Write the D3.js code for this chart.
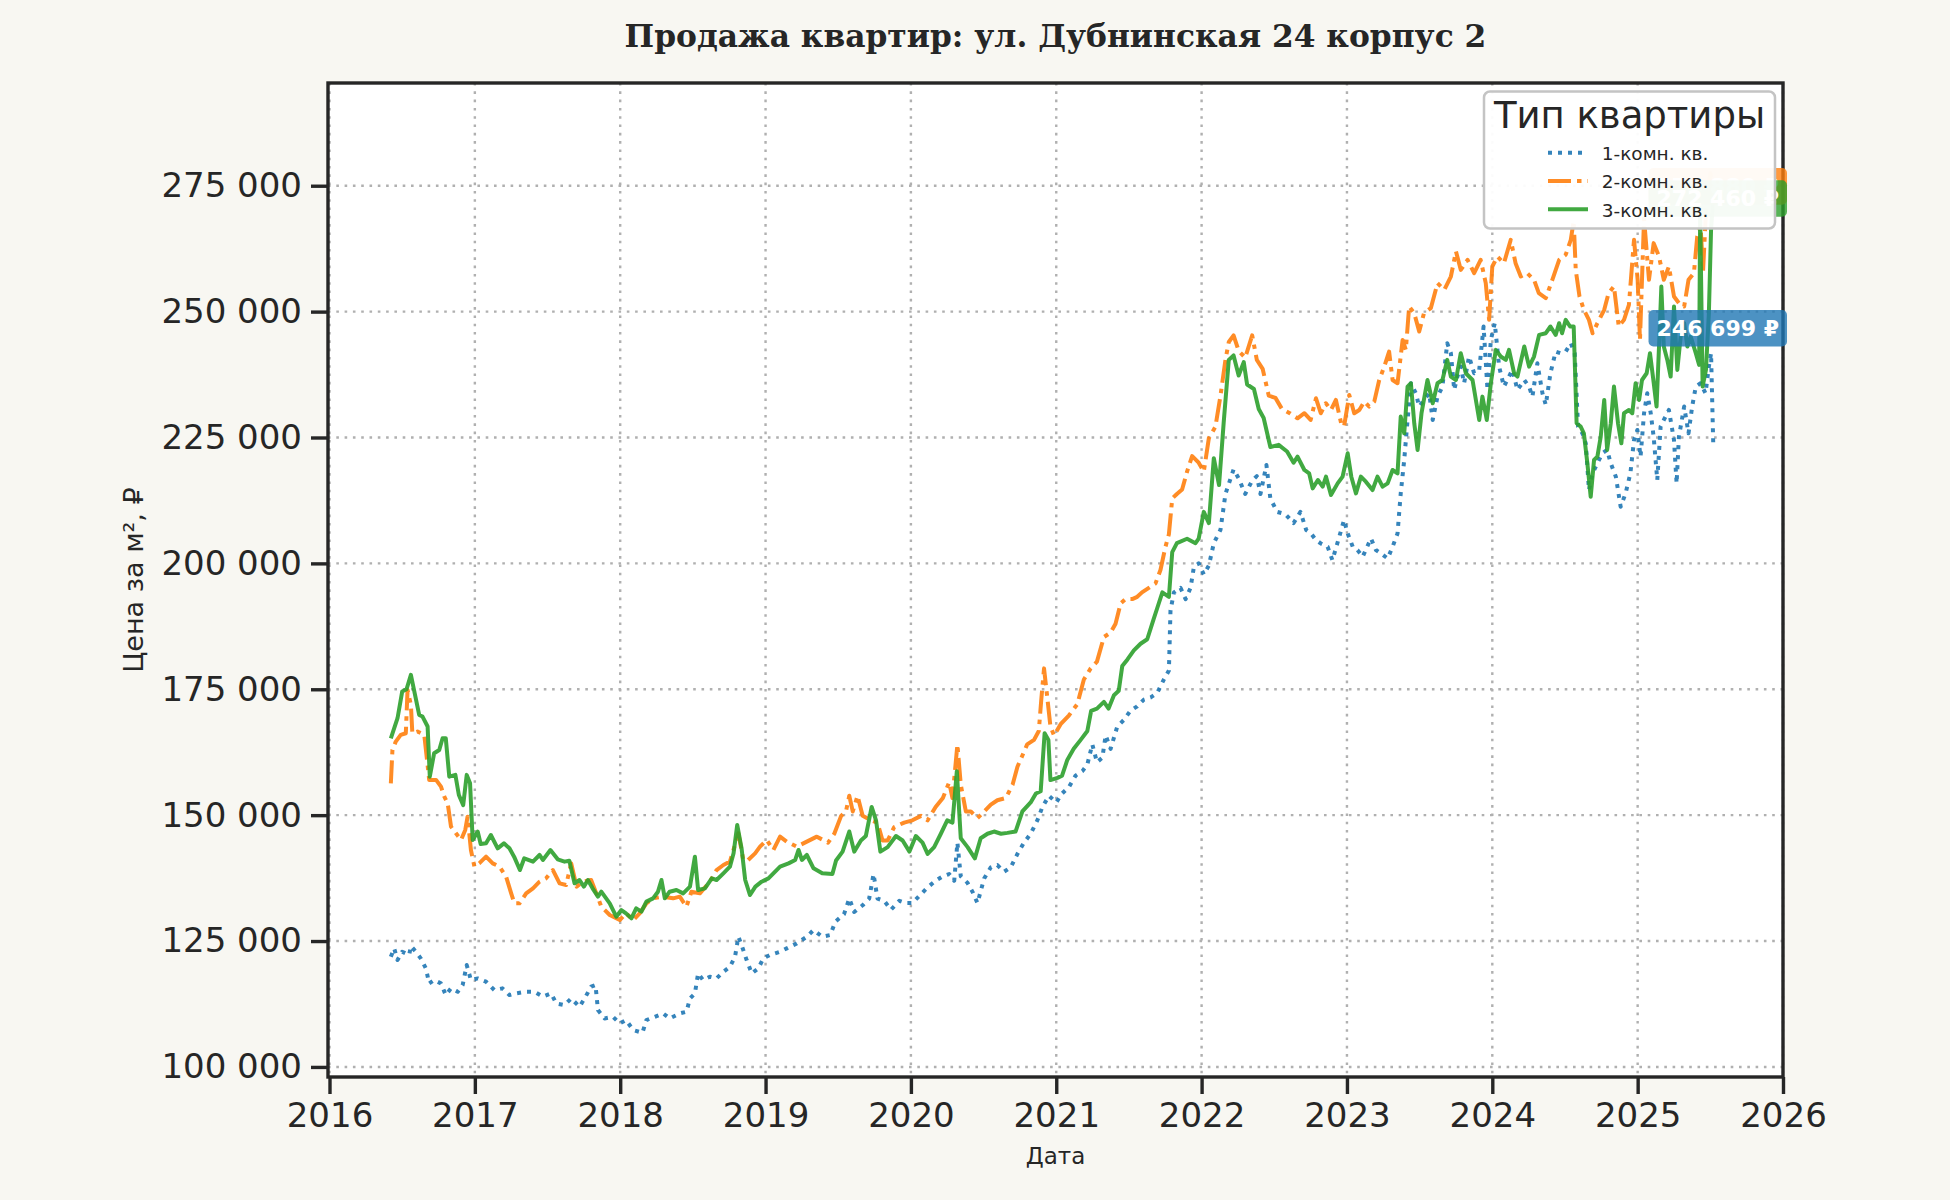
<!DOCTYPE html>
<html>
<head>
<meta charset="utf-8">
<script src="https://cdn.jsdelivr.net/npm/d3@7/dist/d3.min.js"></script>
<style>
  body { margin: 0; background: #f8f7f2; }
  svg { display: block; }
</style>
</head>
<body>
<div id="chart"></div>
<script>
// Данные: [год (дробный), цена за м²]
const chartTitle = "Продажа квартир: ул. Дубнинская 24 корпус 2";
const xLabel = "Дата";
const yLabel = "Цена за м², ₽";
const legendTitle = "Тип квартиры";
const seriesNames = ["1-комн. кв.", "2-комн. кв.", "3-комн. кв."];
const yearTicks = [2016, 2017, 2018, 2019, 2020, 2021, 2022, 2023, 2024, 2025, 2026];
const priceTicks = [100000, 125000, 150000, 175000, 200000, 225000, 250000, 275000];
// подписи последних значений (2-комн. и 3-комн. закрыты легендой)
const endLabels = [246699, 274880, 272460];

const rooms1 = [
  [2016.422,121890],[2016.445,123540],[2016.468,121220],[2016.50,122880],[2016.548,122220],[2016.56,124000],
  [2016.594,122880],[2016.628,121560],[2016.663,119570],[2016.686,116590],[2016.72,117250],[2016.767,116590],
  [2016.80,114270],[2016.836,115600],[2016.882,114930],[2016.916,116260],[2016.944,120230],[2016.973,117250],
  [2017.02,117580],[2017.077,116920],[2017.134,115260],[2017.19,115600],[2017.238,114270],[2017.284,114600],
  [2017.353,114930],[2017.41,114930],[2017.468,113940],[2017.525,114600],[2017.56,112610],[2017.617,112280],
  [2017.663,113600],[2017.72,111950],[2017.755,113600],[2017.80,115930],[2017.83,116260],[2017.847,111290],
  [2017.893,109630],[2017.95,109960],[2017.997,108640],[2018.04,109300],[2018.09,107310],[2018.153,106780],
  [2018.18,109300],[2018.238,109960],[2018.295,110630],[2018.34,109630],[2018.41,110630],[2018.456,110960],
  [2018.48,113600],[2018.514,114600],[2018.536,118570],[2018.57,117250],[2018.617,117910],[2018.663,117580],
  [2018.71,118900],[2018.755,119900],[2018.79,121890],[2018.813,125860],[2018.835,124200],[2018.87,121220],
  [2018.905,118570],[2018.95,119570],[2018.985,121560],[2019.03,122220],[2019.10,122880],[2019.146,123540],
  [2019.215,124540],[2019.284,125860],[2019.33,127190],[2019.39,125860],[2019.445,126190],[2019.48,128840],
  [2019.54,130330],[2019.576,133440],[2019.61,130770],[2019.668,132110],[2019.713,133440],[2019.743,138310],
  [2019.77,133440],[2019.816,132990],[2019.863,131220],[2019.92,132990],[2019.966,132540],[2020.01,132540],
  [2020.07,134320],[2020.115,135650],[2020.17,136980],[2020.22,137870],[2020.263,138310],[2020.298,136980],
  [2020.32,144530],[2020.343,137870],[2020.39,136540],[2020.424,134760],[2020.458,132540],[2020.504,137420],
  [2020.55,139640],[2020.595,140090],[2020.64,138760],[2020.687,139640],[2020.733,142310],[2020.778,144530],
  [2020.824,146310],[2020.87,148970],[2020.905,151630],[2020.95,153850],[2021.0,152520],[2021.04,154300],
  [2021.088,155630],[2021.133,157850],[2021.18,158740],[2021.214,160070],[2021.248,164060],[2021.28,160510],
  [2021.317,161400],[2021.34,165840],[2021.374,163170],[2021.42,167610],[2021.466,168940],[2021.51,170720],
  [2021.557,171610],[2021.603,172940],[2021.65,173390],[2021.695,174270],[2021.74,176930],[2021.775,178710],
  [2021.786,190700],[2021.81,194250],[2021.855,195140],[2021.89,192910],[2021.924,195140],[2021.946,199130],
  [2021.98,200020],[2022.015,197800],[2022.05,199570],[2022.084,204010],[2022.13,206680],[2022.164,213780],
  [2022.22,218660],[2022.255,216890],[2022.3,213780],[2022.348,216440],[2022.38,217330],[2022.405,213780],
  [2022.446,219550],[2022.473,212890],[2022.52,210230],[2022.576,209780],[2022.633,208010],[2022.68,210230],
  [2022.72,206600],[2022.753,205940],[2022.787,204620],[2022.82,203960],[2022.867,203300],[2022.9,200640],
  [2022.947,205280],[2022.98,208600],[2023.005,205940],[2023.04,203300],[2023.073,202640],[2023.108,201310],
  [2023.165,204950],[2023.2,202640],[2023.234,201970],[2023.28,200980],[2023.314,203300],[2023.348,205940],
  [2023.37,213900],[2023.394,220530],[2023.417,228480],[2023.44,235770],[2023.474,233780],[2023.497,231140],
  [2023.53,232460],[2023.566,233780],[2023.59,228480],[2023.623,233120],[2023.657,235110],[2023.69,243730],
  [2023.715,241740],[2023.738,234450],[2023.76,237100],[2023.783,239080],[2023.806,235770],[2023.84,241080],
  [2023.875,237760],[2023.91,238420],[2023.94,247040],[2023.967,234450],[2023.99,244380],[2024.017,247700],
  [2024.047,239080],[2024.08,235110],[2024.115,237100],[2024.138,238420],[2024.173,234450],[2024.22,236420],
  [2024.253,235110],[2024.276,233120],[2024.31,239750],[2024.345,233780],[2024.368,231470],[2024.4,237760],
  [2024.436,242070],[2024.47,241740],[2024.505,242070],[2024.54,243730],[2024.567,241740],[2024.59,227160],
  [2024.62,225830],[2024.643,223840],[2024.665,214570],[2024.69,217880],[2024.723,219870],[2024.757,221860],
  [2024.79,222520],[2024.815,219870],[2024.85,217220],[2024.883,211250],[2024.917,213900],[2024.95,217880],
  [2024.975,224500],[2024.998,226490],[2025.02,221200],[2025.044,229820],[2025.066,233780],[2025.09,229820],
  [2025.11,225170],[2025.135,216560],[2025.158,227160],[2025.18,228480],[2025.215,230470],[2025.25,224500],
  [2025.268,215890],[2025.284,225170],[2025.32,231140],[2025.35,225830],[2025.375,231140],[2025.4,235110],
  [2025.433,235770],[2025.467,233780],[2025.49,239080],[2025.505,241740],[2025.52,223840]
];

const rooms2 = [
  [2016.422,156330],[2016.433,162950],[2016.456,164610],[2016.49,165940],[2016.525,166270],[2016.537,174880],
  [2016.56,171900],[2016.57,166270],[2016.606,166600],[2016.652,165940],[2016.686,157000],[2016.733,157000],
  [2016.767,155670],[2016.79,153680],[2016.813,152360],[2016.836,147720],[2016.87,146400],[2016.905,145070],
  [2016.934,147060],[2016.95,149700],[2016.973,143080],[2016.997,139770],[2017.03,140430],[2017.077,141760],
  [2017.123,140430],[2017.17,139770],[2017.215,137780],[2017.25,134470],[2017.272,132490],[2017.307,132490],
  [2017.353,134470],[2017.40,135470],[2017.445,136790],[2017.49,137450],[2017.537,139100],[2017.583,136460],
  [2017.628,136130],[2017.663,140430],[2017.70,135800],[2017.744,136790],[2017.80,137120],[2017.836,134470],
  [2017.87,131820],[2017.928,130170],[2017.997,129170],[2018.04,130500],[2018.09,129170],[2018.134,130500],
  [2018.18,132490],[2018.226,133480],[2018.295,133810],[2018.364,133480],[2018.41,133810],[2018.456,131820],
  [2018.49,134800],[2018.548,134470],[2018.617,136790],[2018.663,139100],[2018.71,140100],[2018.755,140770],
  [2018.813,146400],[2018.847,141100],[2018.88,141100],[2018.928,142420],[2018.962,143750],[2019.008,145070],
  [2019.054,143080],[2019.10,145730],[2019.146,144740],[2019.215,143750],[2019.284,144740],[2019.353,145730],
  [2019.43,144530],[2019.473,146310],[2019.52,149860],[2019.553,150740],[2019.576,153850],[2019.6,150740],
  [2019.633,153850],[2019.668,149860],[2019.725,148970],[2019.77,148530],[2019.805,144970],[2019.84,144970],
  [2019.885,147640],[2019.954,148530],[2020.01,148970],[2020.07,149860],[2020.115,148970],[2020.17,151630],
  [2020.22,153410],[2020.263,156520],[2020.286,153410],[2020.32,164060],[2020.343,156070],[2020.378,150740],
  [2020.412,150740],[2020.458,149410],[2020.504,150740],[2020.55,152080],[2020.595,152960],[2020.653,153410],
  [2020.7,156070],[2020.733,159620],[2020.767,161840],[2020.8,164060],[2020.847,164950],[2020.88,166720],
  [2020.897,172940],[2020.916,179150],[2020.94,172940],[2020.96,167610],[2020.985,165840],[2021.03,168060],
  [2021.088,169830],[2021.145,172050],[2021.19,176930],[2021.237,179150],[2021.28,180490],[2021.328,185370],
  [2021.374,186260],[2021.408,188030],[2021.443,192030],[2021.477,192910],[2021.523,192910],[2021.557,193360],
  [2021.59,194250],[2021.637,195140],[2021.683,196020],[2021.717,198690],[2021.75,203130],[2021.775,205790],
  [2021.798,212890],[2021.83,213780],[2021.866,214670],[2021.90,218220],[2021.935,221320],[2021.98,219990],
  [2022.015,218220],[2022.05,224880],[2022.095,227110],[2022.13,233320],[2022.164,240410],[2022.187,243960],
  [2022.22,245290],[2022.255,242190],[2022.3,240860],[2022.348,245290],[2022.38,240410],[2022.42,238640],
  [2022.462,233320],[2022.508,232870],[2022.553,230650],[2022.61,229760],[2022.66,228810],[2022.707,229820],
  [2022.75,228480],[2022.787,232790],[2022.82,229820],[2022.855,231800],[2022.89,230470],[2022.924,232460],
  [2022.96,227820],[2022.98,227160],[2023.016,233450],[2023.05,229820],[2023.085,230470],[2023.12,232130],
  [2023.153,231140],[2023.188,232130],[2023.222,236420],[2023.257,239080],[2023.29,242070],[2023.314,236420],
  [2023.348,235770],[2023.383,244380],[2023.405,242400],[2023.428,251020],[2023.463,249690],[2023.497,246050],
  [2023.53,249690],[2023.577,250680],[2023.623,255650],[2023.67,254330],[2023.715,256970],[2023.75,261950],
  [2023.783,258290],[2023.83,260280],[2023.875,257640],[2023.92,260280],[2023.955,255650],[2023.978,248360],
  [2024.0,258960],[2024.035,260950],[2024.08,259620],[2024.127,264260],[2024.16,259620],[2024.196,256970],
  [2024.24,257640],[2024.287,256310],[2024.32,253660],[2024.368,252680],[2024.413,256310],[2024.46,260280],
  [2024.505,261300],[2024.54,264260],[2024.56,268000],[2024.574,258290],[2024.6,253000],[2024.63,250350],
  [2024.665,248360],[2024.69,245710],[2024.723,247700],[2024.77,250350],[2024.8,253660],[2024.837,255000],
  [2024.87,247040],[2024.906,248360],[2024.94,251350],[2024.975,264260],[2025.0,256310],[2025.016,244380],
  [2025.044,268500],[2025.078,256310],[2025.11,263600],[2025.147,260950],[2025.18,256310],[2025.215,258960],
  [2025.25,253000],[2025.284,251680],[2025.32,251020],[2025.35,256310],[2025.387,257640],[2025.41,264930],
  [2025.433,266920],[2025.45,258000],[2025.47,270000],[2025.5,277500],[2025.52,274880]
];

const rooms3 = [
  [2016.422,165270],[2016.468,169250],[2016.50,174550],[2016.53,175000],[2016.56,177860],[2016.617,169900],
  [2016.64,169580],[2016.675,167600],[2016.69,157650],[2016.72,162300],[2016.755,162950],[2016.778,165270],
  [2016.80,165270],[2016.824,157650],[2016.866,158000],[2016.89,154000],[2016.92,152000],[2016.944,158000],
  [2016.967,156330],[2016.985,145070],[2017.02,146730],[2017.04,144280],[2017.077,144400],[2017.11,146060],
  [2017.157,143410],[2017.20,144400],[2017.238,143410],[2017.27,141760],[2017.31,139100],[2017.34,141430],
  [2017.40,140770],[2017.445,142090],[2017.468,141100],[2017.52,143080],[2017.57,141230],[2017.617,140770],
  [2017.65,140960],[2017.686,136460],[2017.72,137120],[2017.75,135800],[2017.778,137120],[2017.81,135470],
  [2017.847,133810],[2017.87,134800],[2017.928,132490],[2017.973,129840],[2018.008,131160],[2018.04,130500],
  [2018.077,129500],[2018.11,131490],[2018.146,130830],[2018.18,132820],[2018.226,133480],[2018.26,134800],
  [2018.284,137120],[2018.307,133480],[2018.34,134800],[2018.387,135130],[2018.433,134470],[2018.48,135800],
  [2018.514,141760],[2018.536,135130],[2018.583,135470],[2018.63,137450],[2018.663,137120],[2018.71,138450],
  [2018.755,139770],[2018.78,142420],[2018.805,148050],[2018.835,143410],[2018.86,137120],[2018.893,134140],
  [2018.93,135800],[2018.973,136790],[2019.02,137450],[2019.054,138450],[2019.1,139770],[2019.158,140430],
  [2019.204,141100],[2019.227,143080],[2019.25,141100],[2019.284,142090],[2019.33,139440],[2019.39,138450],
  [2019.46,138310],[2019.485,141000],[2019.53,142760],[2019.576,146750],[2019.61,142760],[2019.656,144970],
  [2019.69,145860],[2019.73,151630],[2019.76,148970],[2019.79,142760],[2019.84,143650],[2019.897,145860],
  [2019.943,144970],[2019.99,142760],[2020.034,145860],[2020.08,144530],[2020.115,142310],[2020.16,143650],
  [2020.206,146310],[2020.25,148970],[2020.286,148530],[2020.316,158740],[2020.343,145420],[2020.39,143650],
  [2020.44,141420],[2020.48,145420],[2020.527,146310],[2020.572,146750],[2020.62,146310],[2020.664,146480],
  [2020.72,146750],[2020.767,150740],[2020.824,152520],[2020.86,154300],[2020.893,154740],[2020.92,166280],
  [2020.946,164950],[2020.96,156960],[2021.008,157400],[2021.04,157850],[2021.076,160960],[2021.12,163170],
  [2021.168,164950],[2021.214,166720],[2021.24,170720],[2021.28,171160],[2021.328,172500],[2021.36,171160],
  [2021.397,173830],[2021.43,174710],[2021.454,179600],[2021.49,180930],[2021.534,182710],[2021.58,184040],
  [2021.626,184930],[2021.67,188920],[2021.695,191140],[2021.73,194250],[2021.775,193360],[2021.798,202240],
  [2021.83,204010],[2021.90,204900],[2021.958,204010],[2021.98,204900],[2022.015,210230],[2022.05,208010],
  [2022.084,220880],[2022.12,215550],[2022.152,227980],[2022.187,240410],[2022.22,241300],[2022.255,237300],
  [2022.29,239970],[2022.313,235530],[2022.36,234640],[2022.393,230650],[2022.427,228870],[2022.473,223100],
  [2022.53,223540],[2022.588,222210],[2022.633,219990],[2022.66,221200],[2022.707,218550],[2022.74,217880],
  [2022.764,214900],[2022.8,216560],[2022.833,215230],[2022.856,217220],[2022.89,213570],[2022.936,215890],
  [2022.97,217220],[2023.005,221860],[2023.03,217220],[2023.062,213900],[2023.096,217220],[2023.13,216230],
  [2023.176,214570],[2023.21,217220],[2023.245,215230],[2023.28,215890],[2023.314,218550],[2023.348,217880],
  [2023.37,229150],[2023.394,225830],[2023.417,235110],[2023.44,235770],[2023.463,227820],[2023.486,222520],
  [2023.513,229820],[2023.554,236420],[2023.59,231800],[2023.623,235770],[2023.657,236420],[2023.69,240410],
  [2023.715,237100],[2023.75,236420],[2023.783,241740],[2023.818,237760],[2023.864,236420],[2023.91,228480],
  [2023.932,233120],[2023.962,228480],[2023.99,235770],[2024.024,242400],[2024.058,241080],[2024.093,240410],
  [2024.115,242400],[2024.15,237760],[2024.173,237100],[2024.22,243060],[2024.253,239080],[2024.287,241080],
  [2024.322,245380],[2024.368,245710],[2024.4,247040],[2024.436,245380],[2024.46,247700],[2024.48,245710],
  [2024.505,248360],[2024.535,247040],[2024.56,247040],[2024.58,227820],[2024.608,227160],[2024.63,225830],
  [2024.654,219870],[2024.677,213240],[2024.7,220530],[2024.723,221200],[2024.746,225170],[2024.77,232460],
  [2024.79,222520],[2024.815,227820],[2024.837,235110],[2024.865,227820],[2024.888,223840],[2024.906,229820],
  [2024.94,230470],[2024.963,229820],[2024.986,235770],[2025.01,232460],[2025.03,236420],[2025.062,237760],
  [2025.085,241740],[2025.108,236420],[2025.13,231140],[2025.147,243060],[2025.163,254990],[2025.18,243060],
  [2025.204,240410],[2025.227,237100],[2025.25,251020],[2025.273,238420],[2025.296,245050],[2025.32,247700],
  [2025.342,243060],[2025.365,245050],[2025.4,241740],[2025.423,239420],[2025.43,269570],[2025.447,235110],
  [2025.47,238420],[2025.49,249690],[2025.505,266250],[2025.52,272460]
];

const seriesData = [rooms1, rooms2, rooms3];
const colors = ["#1f77b4", "#ff7f0e", "#2ca02c"];
const dashes = ["4,6", "23,6,4.5,6", null];

// Размеры
const width = 1950;
const height = 1200;
const plot = { left: 328, right: 1783, top: 83, bottom: 1077 };
const ink = "#262626";

const svg = d3.select("#chart")
  .append("svg")
  .attr("width", width)
  .attr("height", height);

svg.append("rect")
  .attr("width", width).attr("height", height)
  .attr("fill", "#f8f7f2");

svg.append("rect")
  .attr("x", plot.left).attr("y", plot.top)
  .attr("width", plot.right - plot.left).attr("height", plot.bottom - plot.top)
  .attr("fill", "#ffffff");

const x = d3.scaleLinear().domain([2016, 2026]).range([plot.left + 1.5, plot.right]);
const y = d3.scaleLinear().domain([98000, 295400]).range([plot.bottom, plot.top]);

const fmt = d3.formatLocale({ decimal: ",", thousands: " ", grouping: [3], currency: ["", " ₽"] }).format(",d");

// Сетка
const grid = svg.append("g").attr("stroke", "#b0b0b0").attr("stroke-width", 2.4)
  .attr("stroke-dasharray", "2.6,5.7");
grid.selectAll(".gx").data(yearTicks).join("line")
  .attr("x1", d => x(d)).attr("x2", d => x(d))
  .attr("y1", plot.top).attr("y2", plot.bottom);
grid.selectAll(".gy").data(priceTicks).join("line")
  .attr("y1", d => y(d)).attr("y2", d => y(d))
  .attr("x1", plot.left).attr("x2", plot.right);

// Линии
const line = d3.line().x(d => x(d[0])).y(d => y(d[1]));

seriesData.forEach((data, i) => {
  svg.append("path")
    .datum(data)
    .attr("fill", "none")
    .attr("stroke", colors[i])
    .attr("stroke-opacity", 0.9)
    .attr("stroke-width", 4)
    .attr("stroke-linejoin", "round")
    .attr("stroke-dasharray", dashes[i])
    .attr("d", line);
});

// Оси
const xAxis = svg.append("g")
  .attr("transform", `translate(0,${plot.bottom})`)
  .call(d3.axisBottom(x).tickValues(yearTicks).tickFormat(d3.format("d")).tickSize(17).tickPadding(9));
const yAxis = svg.append("g")
  .attr("transform", `translate(${plot.left},0)`)
  .call(d3.axisLeft(y).tickValues(priceTicks).tickFormat(fmt).tickSize(17).tickPadding(9));

[xAxis, yAxis].forEach(g => {
  g.select(".domain").remove();
  g.selectAll(".tick line").attr("stroke", ink).attr("stroke-width", 3.4);
  g.selectAll("text")
    .attr("fill", ink)
    .style("font-family", "DejaVu Sans")
    .style("font-size", "34px");
});

// Рамка
svg.append("rect")
  .attr("x", plot.left).attr("y", plot.top)
  .attr("width", plot.right - plot.left).attr("height", plot.bottom - plot.top)
  .attr("fill", "none").attr("stroke", ink).attr("stroke-width", 3.4);

// Заголовок и подписи осей
svg.append("text")
  .attr("x", (plot.left + plot.right) / 2).attr("y", 47)
  .attr("text-anchor", "middle").attr("fill", ink)
  .style("font-family", "DejaVu Serif").style("font-weight", "bold").style("font-size", "31.3px")
  .text(chartTitle);

svg.append("text")
  .attr("x", (plot.left + plot.right) / 2).attr("y", 1164)
  .attr("text-anchor", "middle").attr("fill", ink)
  .style("font-family", "DejaVu Sans").style("font-size", "23px")
  .text(xLabel);

svg.append("text")
  .attr("transform", `translate(143,${(plot.top + plot.bottom) / 2}) rotate(-90)`)
  .attr("text-anchor", "middle").attr("fill", ink)
  .style("font-family", "DejaVu Sans").style("font-size", "27px")
  .text(yLabel);

// Подписи последних значений
endLabels.forEach((v, i) => {
  const g = svg.append("g");
  const t = g.append("text")
    .attr("x", plot.right - 4).attr("y", y(v))
    .attr("dy", "0.36em")
    .attr("text-anchor", "end")
    .attr("fill", "#ffffff")
    .style("font-family", "DejaVu Sans").style("font-weight", "bold").style("font-size", "22px")
    .text(fmt(v) + " ₽");
  const bb = t.node().getBBox();
  g.insert("rect", "text")
    .attr("x", bb.x - 8).attr("y", y(v) - 18.3)
    .attr("width", bb.width + 16).attr("height", 36.6)
    .attr("rx", 5)
    .attr("fill", colors[i]).attr("fill-opacity", 0.8);
});

// Легенда
const legend = svg.append("g");
legend.append("rect")
  .attr("x", 1484).attr("y", 91.5).attr("width", 291).attr("height", 137).attr("rx", 6)
  .attr("fill", "#ffffff").attr("fill-opacity", 0.95)
  .attr("stroke", "#c4c4c4").attr("stroke-width", 2.5);
legend.append("text")
  .attr("x", 1629.5).attr("y", 127.5).attr("text-anchor", "middle").attr("fill", ink)
  .style("font-family", "DejaVu Sans").style("font-size", "37px")
  .text(legendTitle);
seriesNames.forEach((name, i) => {
  const cy = 152.7 + i * 28.3;
  legend.append("line")
    .attr("x1", 1548).attr("x2", 1588).attr("y1", cy).attr("y2", cy)
    .attr("stroke", colors[i]).attr("stroke-opacity", 0.9).attr("stroke-width", 4)
    .attr("stroke-dasharray", dashes[i]);
  legend.append("text")
    .attr("x", 1601.7).attr("y", cy + 7.3).attr("fill", ink)
    .style("font-family", "DejaVu Sans").style("font-size", "18.5px")
    .text(name);
});
</script>
</body>
</html>
